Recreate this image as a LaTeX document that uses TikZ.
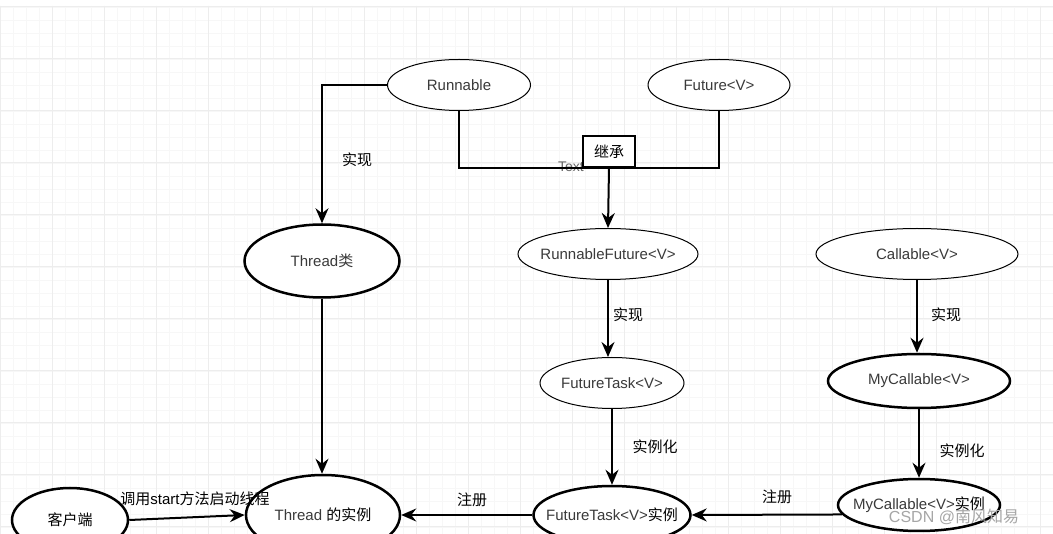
\documentclass[tikz,border=0pt]{standalone}
\usepackage{fontspec}
\setmainfont{Liberation Sans}
\newfontfamily\cjk{Noto Sans CJK SC}
\usetikzlibrary{shapes.geometric,arrows.meta}
\definecolor{txtgray}{HTML}{3A3A3A}
\definecolor{gridminor}{HTML}{F7F7F7}
\definecolor{gridmajor}{HTML}{EDEDED}
\newcommand\mt[1]{\makebox[0pt][c]{#1}}
\tikzset{
  ell/.style={ellipse, draw=black, fill=white, inner sep=0pt, text=txtgray,
    font=\fontsize{15}{18}\selectfont},
  thinb/.style={ell, line width=1pt},
  thickb/.style={ell, line width=2.5pt},
  conn/.style={line width=2pt, -{Stealth[length=15pt,width=13pt,inset=5pt]}},
  plainline/.style={line width=2pt},
  lbl/.style={font=\cjk\fontsize{15}{18}\selectfont, text=black, inner sep=0pt},
}
\begin{document}
\begin{tikzpicture}[x=1pt,y=-1pt]
\useasboundingbox (0,0) rectangle (1053,534);
\fill[white] (0,0) rectangle (1053,534);
% grid
\foreach \x in {0,13,...,1053} \draw[gridminor, line width=0.8pt] (\x,6) -- (\x,534);
\foreach \y in {7,20,...,534} \draw[gridminor, line width=0.8pt] (0,\y) -- (1053,\y);
\foreach \x in {0,52,...,1053} \draw[gridmajor, line width=1pt] (\x,6) -- (\x,534);
\foreach \y in {7,59,...,534} \draw[gridmajor, line width=1pt] (0,\y) -- (1053,\y);

% nodes
\node[thinb, minimum width=143pt, minimum height=51pt] (runnable) at (459,85) {\mt{Runnable}};
\node[thinb, minimum width=142pt, minimum height=51pt] (future) at (719,85) {\mt{Future<V>}};
\node[thickb, minimum width=155pt, minimum height=73pt] (thread) at (322,261) {\mt{Thread{\cjk 类}}};
\node[thinb, minimum width=180pt, minimum height=51pt] (rf) at (608,254) {\mt{RunnableFuture<V>}};
\node[thinb, minimum width=202pt, minimum height=51pt] (callable) at (917,254) {\mt{Callable<V>}};
\node[thinb, minimum width=144pt, minimum height=51pt] (ft) at (612,383) {\mt{FutureTask<V>}};
\node[thickb, minimum width=182pt, minimum height=54pt] (mc) at (919,381) {\mt{MyCallable<V>}};
\node[thickb, minimum width=154pt, minimum height=80pt] (ti) at (323,515) {\mt{Thread {\cjk\color{black} 的实例}}};
\node[thickb, minimum width=157pt, minimum height=58pt] (fti) at (612,515) {\mt{FutureTask<V>{\cjk\color{black}实例}}};
\node[thickb, minimum width=162pt, minimum height=52pt] (mci) at (919,505) {\mt{MyCallable<V>{\cjk\color{black}实例}}};
\node[thickb, minimum width=116pt, minimum height=64pt, text=black] (client) at (70,520) {\mt{\cjk 客户端}};

% inheritance junction
\coordinate (j) at (609,168);
\node[font=\fontsize{14}{16}\selectfont, text=black!60, inner sep=0pt] (textlbl) at (571,167) {Text};
\draw[plainline] (runnable.south) |- (j);
\draw[plainline] (future.south) |- (j);
\node[draw=black, line width=2pt, fill=white, minimum width=52pt, minimum height=31pt, inner sep=0pt,
  font=\cjk\fontsize{15}{18}\selectfont] (jc) at (609,152) {继承};
\draw[conn] (j) -- (rf.north);

% connectors
\draw[conn] (runnable.west) -| (thread.north);
\node[lbl] (l1) at (357,160) {实现};
\draw[conn] (rf.south) -- (ft.north -| rf.south);
\node[lbl] (l2) at (628,315) {实现};
\draw[conn] (callable.south) -- (mc.north -| callable.south);
\node[lbl] (l3) at (946,315) {实现};
\draw[conn] (ft.south) -- (fti.north);
\node[lbl] (l4) at (655,447) {实例化};
\draw[conn] (mc.south) -- (mci.north);
\node[lbl] (l5) at (962,451) {实例化};
\draw[conn] (thread.south) -- (ti.north -| thread.south);
\draw[conn] (client.east) -- (ti.west);
\node[lbl] (l6) at (195,499) {调用{\fontspec{Liberation Sans}start}方法启动线程};
\draw[conn] (fti.west) -- (ti.east);
\node[lbl] (l7) at (472,500) {注册};
\draw[conn] (mci.187) -- (fti.east);
\node[lbl] (l8) at (777,497) {注册};

% watermark
\node[font=\cjk\fontsize{16}{18}\selectfont, text=gray!70, inner sep=0pt] (wm) at (954,517) {{\fontspec{Liberation Sans}CSDN @}南风知易};
\end{tikzpicture}
\end{document}
